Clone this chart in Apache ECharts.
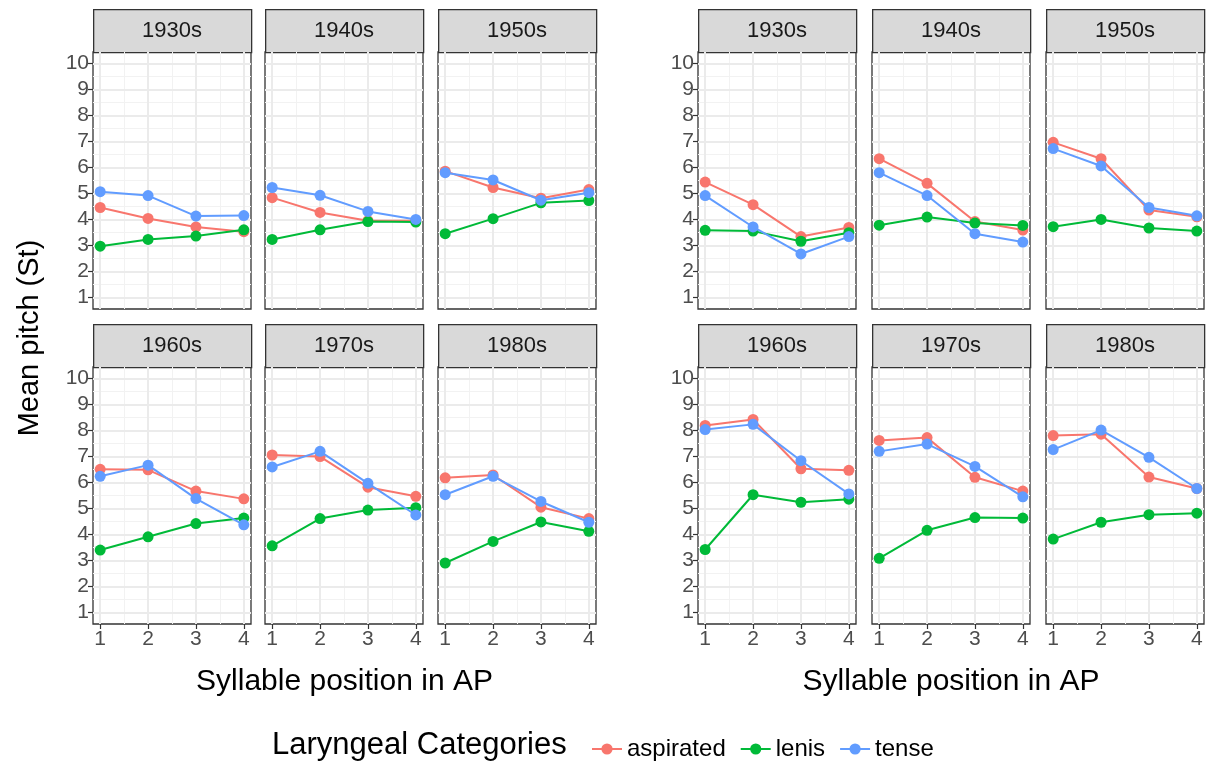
<!DOCTYPE html>
<html>
<head>
<meta charset="utf-8">
<script src="https://cdn.jsdelivr.net/npm/echarts@6/dist/echarts.min.js"></script>
<style>
  html, body { margin: 0; padding: 0; background: #fff; }
  #chart { width: 1212px; height: 764px; }
</style>
</head>
<body>
<div id="chart"></div>
<script>
  const decades = ['1930s', '1940s', '1950s', '1960s', '1970s', '1980s'];
  const positions = [1, 2, 3, 4];
  const yTicks = [1, 2, 3, 4, 5, 6, 7, 8, 9, 10];
  const xMinor = [1.5, 2.5, 3.5];
  const yMinor = [1.5, 2.5, 3.5, 4.5, 5.5, 6.5, 7.5, 8.5, 9.5];
  const categories = ['aspirated', 'lenis', 'tense'];
  const colors = ['#F8766D', '#00BA38', '#619CFF'];

  // left block: one row of 4 syllable positions per decade
  const leftAspirated = [
    [4.46, 4.04, 3.71, 3.53], [4.84, 4.27, 3.95, 3.95], [5.86, 5.23, 4.82, 5.15],
    [6.51, 6.49, 5.67, 5.37], [7.06, 7.00, 5.82, 5.47], [6.18, 6.29, 5.05, 4.61]
  ];
  const leftLenis = [
    [2.97, 3.23, 3.36, 3.60], [3.23, 3.60, 3.92, 3.90], [3.45, 4.03, 4.64, 4.73],
    [3.40, 3.91, 4.42, 4.63], [3.56, 4.61, 4.94, 5.03], [2.90, 3.73, 4.48, 4.12]
  ];
  const leftTense = [
    [5.07, 4.92, 4.13, 4.15], [5.23, 4.93, 4.31, 4.00], [5.80, 5.52, 4.74, 5.03],
    [6.24, 6.67, 5.38, 4.37], [6.60, 7.20, 5.97, 4.75], [5.53, 6.24, 5.27, 4.47]
  ];

  // right block
  const rightAspirated = [
    [5.44, 4.57, 3.34, 3.69], [6.34, 5.39, 3.92, 3.59], [6.97, 6.34, 4.36, 4.10],
    [8.20, 8.43, 6.53, 6.47], [7.62, 7.73, 6.20, 5.67], [7.81, 7.86, 6.21, 5.77]
  ];
  const rightLenis = [
    [3.58, 3.55, 3.16, 3.49], [3.78, 4.09, 3.86, 3.77], [3.72, 4.00, 3.67, 3.55],
    [3.42, 5.53, 5.24, 5.36], [3.08, 4.16, 4.65, 4.63], [3.82, 4.47, 4.76, 4.82]
  ];
  const rightTense = [
    [4.92, 3.71, 2.67, 3.34], [5.80, 4.92, 3.45, 3.13], [6.73, 6.06, 4.46, 4.14],
    [8.04, 8.24, 6.84, 5.56], [7.20, 7.48, 6.62, 5.45], [7.27, 8.02, 6.97, 5.77]
  ];

  const blocks = [
    [leftAspirated, leftLenis, leftTense],
    [rightAspirated, rightLenis, rightTense]
  ];

  // layout
  const colLeft = [[93, 265, 438], [698, 872, 1046]];
  const panelW = 158;
  const stripTop = [9, 324];
  const stripH = 43;
  const plotTop = [52, 367];
  const plotH = 257;
  const font = '"Liberation Sans", Arial, sans-serif';

  const chart = echarts.init(document.getElementById('chart'));

  const grids = [], xAxes = [], yAxes = [], series = [], graphics = [];

  blocks.forEach(function (block, b) {
    decades.forEach(function (dec, d) {
      const row = Math.floor(d / 3), col = d % 3;
      const gi = grids.length;
      const left = colLeft[b][col];
      grids.push({
        left: left, top: plotTop[row], width: panelW, height: plotH,
        show: true, borderColor: '#333', borderWidth: 1.3, backgroundColor: '#fff'
      });
      const isBottom = row === 1, isLeft = col === 0;
      xAxes.push({
        gridIndex: gi, type: 'value', min: 0.85, max: 4.15,
        axisLine: { show: false },
        splitLine: { show: false },
        axisTick: { show: isBottom, customValues: positions, length: 5, lineStyle: { color: '#333', width: 1.2 } },
        axisLabel: { show: isBottom, customValues: positions, color: '#4d4d4d', fontSize: 21, fontFamily: font, margin: 5 }
      });
      yAxes.push({
        gridIndex: gi, type: 'value', min: 0.55, max: 10.45,
        axisLine: { show: false },
        splitLine: { show: false },
        axisTick: { show: isLeft, customValues: yTicks, length: 5, lineStyle: { color: '#333', width: 1.2 } },
        axisLabel: { show: isLeft, customValues: yTicks, color: '#4d4d4d', fontSize: 21, fontFamily: font, margin: 4 }
      });

      // background grid lines
      const gridLines = [];
      xMinor.forEach(v => gridLines.push({ xAxis: v, lineStyle: { color: '#f2f2f2', width: 1, type: 'solid' } }));
      yMinor.forEach(v => gridLines.push({ yAxis: v, lineStyle: { color: '#f2f2f2', width: 1, type: 'solid' } }));
      positions.forEach(v => gridLines.push({ xAxis: v, lineStyle: { color: '#ebebeb', width: 2, type: 'solid' } }));
      yTicks.forEach(v => gridLines.push({ yAxis: v, lineStyle: { color: '#ebebeb', width: 2, type: 'solid' } }));
      series.push({
        type: 'line', xAxisIndex: gi, yAxisIndex: gi, data: [], z: 1, silent: true,
        markLine: { silent: true, symbol: ['none', 'none'], label: { show: false }, z: 1, animation: false, data: gridLines }
      });

      categories.forEach(function (cat, c) {
        series.push({
          name: cat, type: 'line', xAxisIndex: gi, yAxisIndex: gi, z: 3 + c,
          data: positions.map((p, i) => [p, block[c][d][i]]),
          symbol: 'circle', symbolSize: 11,
          lineStyle: { color: colors[c], width: 2 },
          itemStyle: { color: colors[c] },
          animation: false
        });
      });

      // facet strip
      graphics.push({
        type: 'rect', left: left, top: stripTop[row],
        shape: { width: panelW, height: stripH },
        style: { fill: '#d9d9d9', stroke: '#333', lineWidth: 1.3 }
      });
      graphics.push({
        type: 'text', x: left + panelW / 2, y: stripTop[row] + stripH / 2,
        style: { text: dec, fill: '#1a1a1a', fontSize: 22, fontFamily: font, align: 'center', verticalAlign: 'middle' }
      });
    });

    // x axis title per block
    const xc = (colLeft[b][0] + colLeft[b][2] + panelW) / 2;
    graphics.push({
      type: 'text', x: xc, y: 682,
      style: { text: 'Syllable position in AP', fill: '#000', fontSize: 30, fontFamily: font, align: 'center', verticalAlign: 'middle' }
    });
  });

  graphics.push({
    type: 'text', x: 30, y: 338, rotation: Math.PI / 2,
    style: { text: 'Mean pitch (St)', fill: '#000', fontSize: 29, fontFamily: font, align: 'center', verticalAlign: 'middle' }
  });
  graphics.push({
    type: 'text', x: 272, y: 745,
    style: { text: 'Laryngeal Categories', fill: '#000', fontSize: 31, fontFamily: font, align: 'left', verticalAlign: 'middle' }
  });

  chart.setOption({
    animation: false,
    backgroundColor: '#fff',
    grid: grids,
    xAxis: xAxes,
    yAxis: yAxes,
    series: series,
    graphic: graphics,
    legend: {
      data: categories,
      left: 586, top: 732,
      itemWidth: 30, itemHeight: 14, itemGap: 14,
      textStyle: { fontSize: 24, fontFamily: font, color: '#000' }
    }
  });
</script>
</body>
</html>
